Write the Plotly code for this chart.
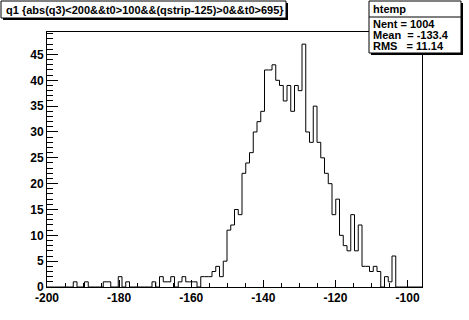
import numpy as np
import plotly.graph_objects as go

# Histogram definition (ROOT htemp, 100 bins)
x_min, x_max, n_bins = -200.0, -96.0, 100
counts = [
    0, 0, 0, 0, 0, 0, 0, 1, 0, 0,
    1, 0, 0, 0, 0, 1, 1, 0, 0, 2,
    0, 1, 0, 0, 0, 0, 0, 0, 1, 0,
    2, 1, 1, 2, 0, 1, 2, 1, 1, 1,
    0, 2, 2, 2, 3, 4, 2, 5, 11, 12,
    15, 14, 22, 24, 26, 30, 32, 34, 42, 42,
    43, 40, 39, 36, 39, 34, 39, 38, 47, 30,
    28, 35, 28, 25, 22, 20, 14, 17, 10, 8,
    7, 14, 7, 12, 4, 4, 3, 4, 3, 0,
    2, 1, 6, 0, 0, 0, 0, 0, 0, 0,
]
title_text = "q1 {abs(q3)<200&&t0>100&&(qstrip-125)>0&&t0>695}"
stats_name = "htemp"
stats_lines = ["Nent = 1004", "Mean  = -133.4", "RMS   = 11.14"]
x_ticks = [-200, -180, -160, -140, -120, -100]
y_ticks = [0, 5, 10, 15, 20, 25, 30, 35, 40, 45]
y_max = 47 * 1.05

edges = np.linspace(x_min, x_max, n_bins + 1)
xs = [edges[0]] + list(edges[:-1]) + [edges[-1], edges[-1]]
ys = [0] + list(counts) + [counts[-1], 0]

W, H = 469, 320
L, R, T, B = 47, 422, 32, 287

def px(x):
    return (x - L) / (R - L)

def py(y):
    return (B - y) / (B - T)

fig = go.Figure()
fig.add_trace(go.Scatter(x=xs, y=ys, mode="lines", line=dict(color="black", width=1, shape="hv"),
                         hoverinfo="skip", showlegend=False))

font = dict(family="Liberation Sans", size=12, color="black", weight="bold")

fig.update_layout(
    width=W, height=H,
    margin=dict(l=L, r=W - R, t=T, b=H - B, autoexpand=False),
    paper_bgcolor="white", plot_bgcolor="white",
    showlegend=False,
    xaxis=dict(range=[x_min, x_max], showgrid=False, zeroline=False, showline=True, mirror=True, automargin=False,
               linecolor="black", linewidth=1, ticks="inside", ticklen=7, tickwidth=1, tickcolor="black",
               tickvals=x_ticks, ticktext=[str(v) for v in x_ticks], tickfont=font,
               minor=dict(ticks="inside", ticklen=4, dtick=5, tickcolor="black", tickwidth=1, showgrid=False)),
    yaxis=dict(range=[0, y_max], showgrid=False, zeroline=False, showline=True, mirror=True, automargin=False,
               linecolor="black", linewidth=1, ticks="inside", ticklen=11, tickwidth=1, tickcolor="black",
               tickvals=y_ticks, ticktext=[str(v) for v in y_ticks], tickfont=font,
               minor=dict(ticks="inside", ticklen=6, dtick=1, tickcolor="black", tickwidth=1, showgrid=False)),
)

shapes = []
# Title box with shadow
tx0, tx1, ty0, ty1 = 1, 286, 1, 18
shapes.append(dict(type="rect", xref="paper", yref="paper", x0=px(tx0 + 2), x1=px(tx1 + 2), y0=py(ty1 + 2), y1=py(ty0 + 2),
                   fillcolor="black", line=dict(width=0)))
shapes.append(dict(type="rect", xref="paper", yref="paper", x0=px(tx0), x1=px(tx1), y0=py(ty1), y1=py(ty0),
                   fillcolor="white", line=dict(color="black", width=1)))
# Stats box with shadow
sx0, sx1, sy0, sy1 = 369, 461, 1, 53
shapes.append(dict(type="rect", xref="paper", yref="paper", x0=px(sx0 + 2), x1=px(sx1 + 2), y0=py(sy1 + 2), y1=py(sy0 + 2),
                   fillcolor="black", line=dict(width=0)))
shapes.append(dict(type="rect", xref="paper", yref="paper", x0=px(sx0), x1=px(sx1), y0=py(sy1), y1=py(sy0),
                   fillcolor="white", line=dict(color="black", width=1)))
shapes.append(dict(type="line", xref="paper", yref="paper", x0=px(sx0), x1=px(sx1), y0=py(17), y1=py(17),
                   line=dict(color="black", width=1)))
fig.update_layout(shapes=shapes)

ann = []
ann.append(dict(xref="paper", yref="paper", x=px(tx0 + 3), y=py((ty0 + ty1) / 2), xanchor="left", yanchor="middle",
                text="<b>" + title_text + "</b>", showarrow=False,
                font=dict(family="Liberation Sans", size=11, color="black")))
ann.append(dict(xref="paper", yref="paper", x=px(sx0 + 2), y=py(9), xanchor="left", yanchor="middle",
                text="<b>" + stats_name + "</b>", showarrow=False,
                font=dict(family="Liberation Sans", size=11, color="black")))
for i, line in enumerate(stats_lines):
    yy = 24 + i * 11
    ann.append(dict(xref="paper", yref="paper", x=px(sx0 + 2), y=py(yy), xanchor="left", yanchor="middle",
                    text="<b>" + line.replace(" ", "\u00a0") + "</b>", showarrow=False,
                    font=dict(family="Liberation Sans", size=11, color="black")))
fig.update_layout(annotations=ann)

fig.write_html("out.html", config={"displayModeBar": False},
               post_script="document.body.style.margin='0px';document.body.style.overflow='hidden';")
